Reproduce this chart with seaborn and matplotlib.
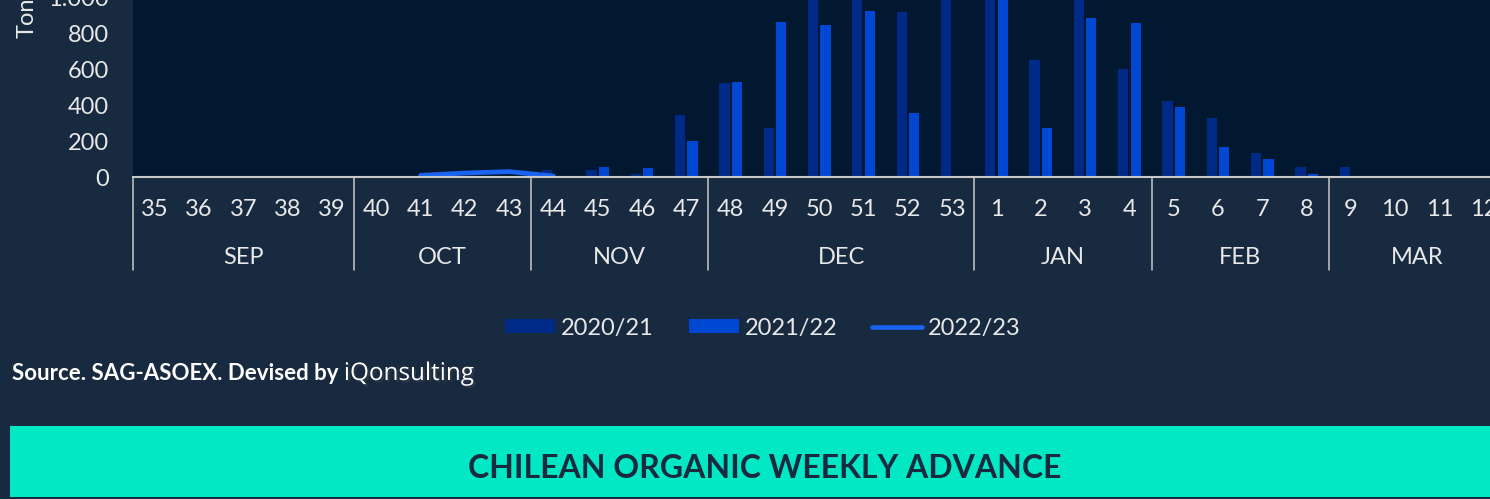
import matplotlib
matplotlib.use("Agg")
import numpy as np
import pandas as pd
import matplotlib.pyplot as plt
import matplotlib.patheffects as pe
import seaborn as sns
from matplotlib.patches import Patch, Rectangle
from matplotlib.lines import Line2D

# Week categories and the month groups they belong to
weeks = ["35", "36", "37", "38", "39", "40", "41", "42", "43", "44", "45", "46",
         "47", "48", "49", "50", "51", "52", "53", "1", "2", "3", "4", "5",
         "6", "7", "8", "9", "10", "11", "12"]
months = ["SEP", "OCT", "NOV", "DEC", "JAN", "FEB", "MAR"]
month_weeks = [5, 4, 4, 6, 4, 4, 4]

seasons = ["2020/21", "2021/22", "2022/23"]

# Tons per week (values above ~980 are cut off in the source picture, estimated)
tons_2020 = [0, 0, 0, 0, 0, 0, 0, 0, 0, 40, 40, 15,
             344, 520, 270, 1250, 1180, 915, 1400, 1300, 650, 1100, 598, 422,
             326, 131, 57, 57, 0, 0, 0]
tons_2021 = [0, 0, 0, 0, 0, 0, 0, 0, 0, 0, 55, 50,
             200, 530, 863, 844, 924, 354, 0, 1150, 270, 885, 857, 391,
             168, 100, 17, 0, 0, 0, 0]
line_weeks = ["41", "42", "43", "44"]
tons_2022 = [9, 22, 30, 5]

yticks = [0, 200, 400, 600, 800, 1000]
ytick_labels = ["0", "200", "400", "600", "800", "1.000"]

bg = "#172a40"
plot_bg = "#011830"
c_dark = "#002a88"
c_bright = "#0048d4"
c_line = "#1a62f0"
txt = "#e8e8e8"
axis_c = "#c8c8c8"
teal = "#03e8c4"

sns.set_style("dark")
plt.rcParams["font.family"] = ["Lato", "DejaVu Sans"]

df = pd.concat([
    pd.DataFrame({"week": weeks, "tons": tons_2020, "season": seasons[0]}),
    pd.DataFrame({"week": weeks, "tons": tons_2021, "season": seasons[1]}),
])

W, H = 1490, 499
fig = plt.figure(figsize=(W / 100, H / 100), dpi=100, facecolor=bg)
# axes runs past the top and right edge, like the cropped screenshot
ax = fig.add_axes([132.5 / W, 322 / H, (1506 - 132.5) / W, 216 / H])
ax.set_facecolor(plot_bg)

sns.barplot(data=df, x="week", y="tons", hue="season", order=weeks,
            hue_order=seasons[:2], palette={seasons[0]: c_dark, seasons[1]: c_bright},
            width=0.56, gap=0.18, errorbar=None, linewidth=0, saturation=1,
            legend=False, ax=ax)

pos = [weeks.index(w) for w in line_weeks]
sns.lineplot(x=pos, y=tons_2022, color=c_line, linewidth=3.4,
             solid_capstyle="round", ax=ax)

ax.set_xlim(-0.5, len(weeks) - 0.5)
ax.set_ylim(0, 1200)
ax.set_yticks(yticks)
ax.set_yticklabels(ytick_labels)
ax.set_xlabel("")
ax.set_ylabel("")
ax.grid(False)
for s in ["top", "right", "left"]:
    ax.spines[s].set_visible(False)
ax.spines["bottom"].set_color(axis_c)
ax.spines["bottom"].set_linewidth(1.5)
ax.tick_params(axis="both", length=0, colors=txt, labelsize=17)
ax.tick_params(axis="x", pad=16)
ax.tick_params(axis="y", pad=17)

# month separators and labels under the week labels
bounds = np.cumsum([0] + month_weeks) - 0.5
trans = ax.get_xaxis_transform()
for b in bounds:
    ax.plot([b, b], [0, -0.4306], transform=trans, clip_on=False,
            color=axis_c, lw=1.1)
centers = (bounds[:-1] + bounds[1:]) / 2
for c, m in zip(centers, months):
    ax.text(c, -0.4005, m, transform=trans, ha="center", va="baseline",
            color=txt, fontsize=17)

fig.text(34 / W, 461 / H, "Tons", rotation=90, rotation_mode="anchor",
         ha="left", va="baseline", color=txt, fontsize=17)

handles = [Patch(facecolor=c_dark, linewidth=0),
           Patch(facecolor=c_bright, linewidth=0),
           Line2D([], [], color=c_line, lw=3.4, solid_capstyle="round")]
fig.legend(handles, seasons, loc="center", bbox_to_anchor=(763 / W, (H - 328) / H),
           ncol=3, frameon=False, fontsize=17, handlelength=2.12,
           handletextpad=0.25, columnspacing=1.48, handleheight=0.5,
           labelcolor=txt)

src = fig.text(12 / W, (H - 380) / H, "Source. SAG-ASOEX. Devised by ",
               color="white", fontsize=16, fontweight="bold", va="baseline")
fig.canvas.draw()
bb = src.get_window_extent()
fig.text(bb.x1 / W, (H - 380) / H, "iQonsulting", color="white", fontsize=17.5,
         family="Open Sans", va="baseline",
         path_effects=[pe.withSimplePatchShadow(offset=(1.5, -1.5), alpha=0.4)])

# title banner
fig.patches.append(Rectangle((10 / W, 2 / H), 1 - 10 / W, 71 / H,
                             transform=fig.transFigure, facecolor=teal,
                             edgecolor="none"))
fig.text(765 / W, (H - 478) / H, "CHILEAN ORGANIC WEEKLY ADVANCE", ha="center",
         va="baseline", color=bg, fontsize=23, fontweight="bold")

fig.savefig("out.png", dpi=100, facecolor=bg)
